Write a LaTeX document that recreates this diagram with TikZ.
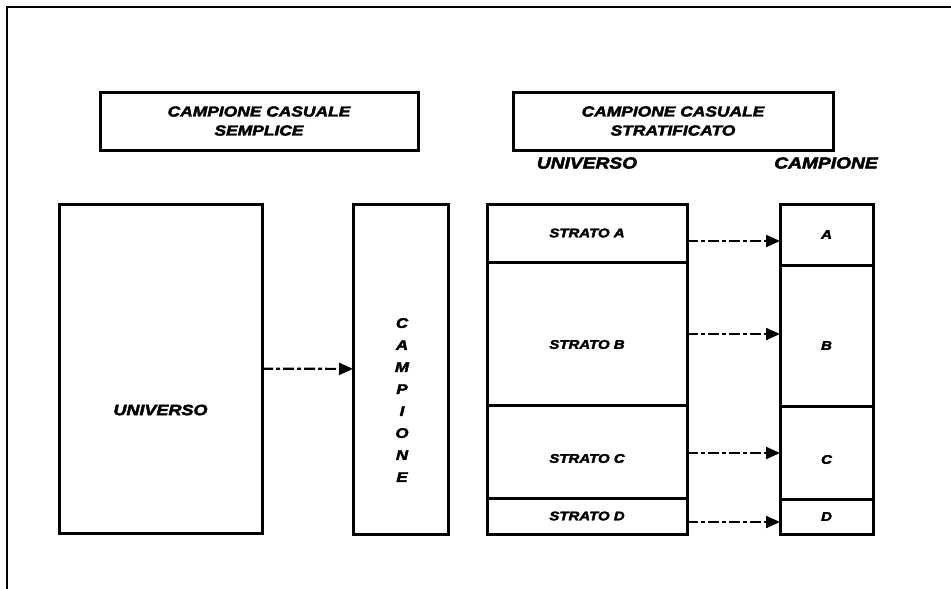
\documentclass[tikz,border=0pt]{standalone}
\usepackage{fontspec}
\newfontfamily\diagfont{Liberation Sans}[FakeStretch=1.2,BoldItalicFeatures={FakeBold=3}]
\usepackage{tikz}
\usetikzlibrary{positioning, arrows.meta, calc}

\tikzset{
  box/.style={draw, line width=3pt, inner sep=0pt, outer sep=0pt},
  layer/.style={box, minimum width=#1},
  flow/.style={line width=2.2pt, dash pattern=on 11pt off 3pt on 4pt off 3pt,
    -{Triangle[length=14pt,width=12pt]}},
  titlefont/.style={font=\diagfont\bfseries\itshape\fontsize{14.5}{19}\selectfont},
  headfont/.style={font=\diagfont\bfseries\itshape\fontsize{16}{18}\selectfont},
  stratfont/.style={font=\diagfont\bfseries\itshape\fontsize{12.5}{14}\selectfont}
}

\begin{document}
\begin{tikzpicture}[x=1pt, y=-1pt]
\useasboundingbox (0,0) rectangle (951,589);
% frame
\draw[line width=2.2pt] (951,7) -- (7,7) -- (7,589);

% titles
\node[box, titlefont, align=center, minimum width=318pt, minimum height=58pt] (tsemp) at (259,121) {CAMPIONE CASUALE\\SEMPLICE};
\node[box, titlefont, align=center, minimum width=320pt, minimum height=58pt] (tstrat) at (673,121) {CAMPIONE CASUALE\\STRATIFICATO};

% simple random sample
\node[box, minimum width=203pt, minimum height=329pt] (uni) at (160.5,368.5) {};
\node[headfont, font=\diagfont\bfseries\itshape\fontsize{15}{17}\selectfont] (unitxt) at (160.5,410) {UNIVERSO};
\node[box, minimum width=95pt, minimum height=330pt] (camp) at (400.5,369) {};
\node[headfont, align=center, font=\diagfont\bfseries\itshape\fontsize{14}{22}\selectfont] (camptxt) at (402,400) {C\\A\\M\\P\\I\\O\\N\\E};
\draw[flow] (uni) -- (camp);

% stratified sample: headers
\node[headfont] (hstrat) at (587,163) {UNIVERSO};
\node[headfont] (hcamp) at (826,163) {CAMPIONE};

% strata
\node[layer=200pt, minimum height=58pt, stratfont] (sA) at (587,233) {STRATO A};
\node[layer=200pt, minimum height=143pt, below=0pt of sA,
  label={[stratfont, yshift=-11pt]center:STRATO B}] (sB) {};
\node[layer=200pt, minimum height=93pt, below=0pt of sB,
  label={[stratfont, yshift=-7pt]center:STRATO C}] (sC) {};
\node[layer=200pt, minimum height=36pt, below=0pt of sC, stratfont] (sD) {STRATO D};

% sample strata
\node[layer=93pt, minimum height=61pt, stratfont] (cA) at (826.5,234.5) {A};
\node[layer=93pt, minimum height=141pt, below=0pt of cA,
  label={[stratfont, yshift=-10pt]center:B}] (cB) {};
\node[layer=93pt, minimum height=93pt, below=0pt of cB,
  label={[stratfont, yshift=-7pt]center:C}] (cC) {};
\node[layer=93pt, minimum height=35pt, below=0pt of cC, stratfont] (cD) {D};

% arrows
\draw[flow] ($(sA.east)+(0,8)$) -- ($(sA.east -| cA.west)+(0,8)$);
\draw[flow] ($(sB.east)+(0,0.5)$) -- ($(sB.east -| cB.west)+(0,0.5)$);
\draw[flow] ($(sC.east)+(0,1.5)$) -- ($(sC.east -| cC.west)+(0,1.5)$);
\draw[flow] ($(sD.east)+(0,6)$) -- ($(sD.east -| cD.west)+(0,6)$);
\end{tikzpicture}
\end{document}
